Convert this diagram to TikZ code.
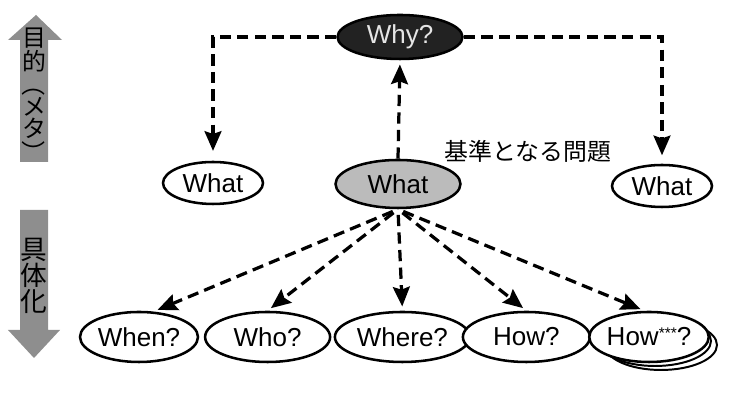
\documentclass[tikz,border=0pt]{standalone}
\usepackage{fontspec}
\setmainfont{Liberation Sans}
\newfontfamily\jpfont{Noto Sans CJK JP}
\usetikzlibrary{shapes, arrows.meta, positioning}
\definecolor{DarkFill}{HTML}{222222}
\definecolor{ArrowGray}{HTML}{8E8E8E}
\definecolor{BaseGray}{HTML}{BBBBBB}

\begin{document}
\begin{tikzpicture}[
    q/.style={ellipse, draw, line width=1.8pt, fill=white, inner sep=0pt,
      minimum height=1.15cm, font=\fontsize{18.5}{18.5}\selectfont},
    dasharrow/.style={dash pattern=on 8pt off 4.5pt, line width=2.3pt,
      -{Stealth[length=14pt,width=12pt,inset=2pt]}, shorten >=3pt},
    vtext/.style={align=center, inner sep=0pt}]
  \useasboundingbox (0,0) rectangle (18.525,10);
  % Pfeile links
  \fill[ArrowGray] (0.9,9.625) -- (1.55,9.0) -- (1.2,9.0) -- (1.2,5.95)
    -- (0.5,5.95) -- (0.5,9.0) -- (0.2,9.0) -- cycle;
  \fill[ArrowGray] (0.85,1.05) -- (1.5,1.75) -- (1.2,1.75) -- (1.2,4.75)
    -- (0.5,4.75) -- (0.5,1.75) -- (0.2,1.75) -- cycle;
  \node[vtext, font=\jpfont\fontsize{17}{15.5}\selectfont] (meta) at (0.85,7.6)
    {目\\的\\\rotatebox[origin=c]{-90}{（}\\メ\\タ\\\rotatebox[origin=c]{-90}{）}};
  \node[vtext, font=\jpfont\fontsize{19}{18.5}\selectfont] (gutai) at (0.85,3.1)
    {具\\体\\化};
  % Knoten
  \node[q, fill=DarkFill, text=gray!20, minimum width=3.125cm, minimum height=1.1cm]
    (why) at (10.0,9.075) {Why?};
  \node[q, minimum width=2.5cm, minimum height=1.05cm] (wl) at (5.325,5.425) {What};
  \node[q, fill=BaseGray, minimum width=3.125cm, minimum height=1.2cm] (wm) at (9.95,5.4) {What};
  \node[q, minimum width=2.5cm, minimum height=1.05cm] (wr) at (16.55,5.35) {What};
  \node[font=\jpfont\fontsize{17}{17}\selectfont] (base) at (13.2,6.225) {基準となる問題};
  \node[q, minimum width=2.95cm, minimum height=1.25cm] (when) at (3.475,1.575) {When?};
  \node[q, minimum width=3.125cm, minimum height=1.25cm] (who) at (6.69,1.575) {Who?};
  \node[q, minimum width=3.375cm, minimum height=1.25cm] (where) at (10.06,1.575) {Where?};
  \node[q, minimum width=3.175cm, minimum height=1.25cm] (how) at (13.16,1.575) {How?};
  % How***? gestapelt
  \node[q, line width=1.4pt, minimum width=2.8cm, minimum height=1.25cm] (howc) at (16.525,1.375) {};
  \node[q, line width=1.4pt, minimum width=2.8cm, minimum height=1.25cm] (howb) at (16.375,1.475) {};
  \node[q, minimum width=2.8cm, minimum height=1.25cm] (howa) at (16.225,1.575)
    {How\raisebox{0.55ex}{\fontsize{11}{11}\selectfont ***}?};
  % Verbindungen
  \draw[dasharrow, shorten >=7pt] (why.west) -| (wl.north);
  \draw[dasharrow, shorten >=6pt] (why.east) -| (wr.north);
  \draw[dasharrow] (wm.north) -- (why.south);
  \foreach \t in {when.60, who.north, where.north, how.north, howa.100}
    \draw[dasharrow, shorten <=4pt] (wm.south) -- (\t);
\end{tikzpicture}
\end{document}
